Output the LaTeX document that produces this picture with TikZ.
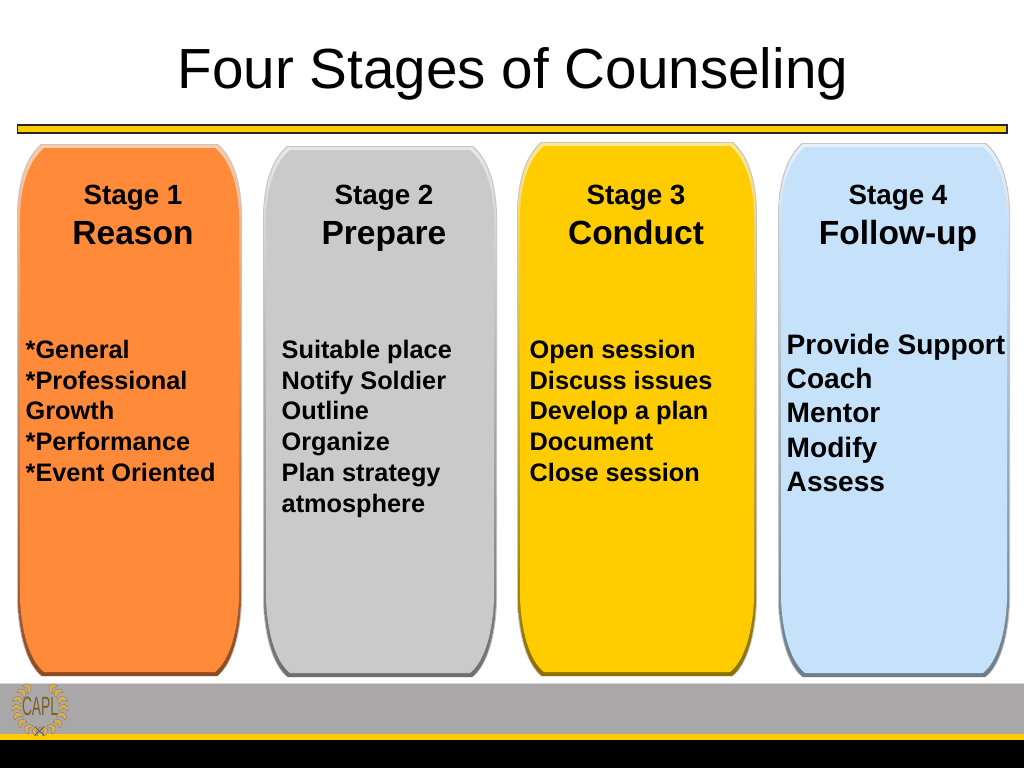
\documentclass[tikz,border=0pt]{standalone}
\usepackage{fontspec}
\setmainfont{Liberation Sans}
\usetikzlibrary{positioning}
\definecolor{capgold}{HTML}{FFCC00}
\definecolor{caporange}{HTML}{FF8A3A}
\definecolor{capgray}{HTML}{CACACA}
\definecolor{capblue}{HTML}{C6E2FA}
\definecolor{capband}{HTML}{A9A7A7}
\definecolor{capleaf}{HTML}{E0AE4A}
% outline of one stage panel: left, top, right, bottom
\newcommand{\panelpath}[4]{(#1,#2+68) .. controls (#1+1,#2+36) and (#1+9,#2+13) .. (#1+24,#2)
  -- (#3-24,#2) .. controls (#3-9,#2+13) and (#3-1,#2+36) .. (#3,#2+68)
  -- (#3,#4-75) .. controls (#3-1,#4-42) and (#3-9,#4-12) .. (#3-24,#4)
  -- (#1+24,#4) .. controls (#1+9,#4-12) and (#1+1,#4-42) .. (#1,#4-75) -- cycle}
\newcommand{\stagepanel}[5]{%
  \fill[panelrim] \panelpath{#1}{#2}{#3}{#4};
  \shade[top color=#5!45!white, middle color=#5!92!black, bottom color=#5!55!black]
    \panelpath{#1+1}{#2+1}{#3-1}{#4};
  \fill[#5] \panelpath{#1+3}{#2+4}{#3-3}{#4-4};
}
\begin{document}
\begin{tikzpicture}[
    x=1pt, y=-1pt,
    panelrim/.style={fill=black!22},
    heading/.style={font=\fontsize{56.6}{62}\selectfont},
    stagenum/.style={font=\fontsize{27.8}{32}\selectfont\bfseries, inner sep=0pt, anchor=base},
    stagename/.style={font=\fontsize{33.5}{38}\selectfont\bfseries, inner sep=0pt, anchor=base},
    points/.style={font=\fontsize{25.3}{30.7}\selectfont\bfseries, align=left,
                   anchor=north west, inner sep=0pt},
    bigpoints/.style={font=\fontsize{28.1}{34.2}\selectfont\bfseries, align=left,
                   anchor=north west, inner sep=0pt},
    leaf/.style={fill=capleaf, draw=black!55, line width=0.3pt},
  ]
  \useasboundingbox (0,0) rectangle (1024,768);

  % Title and rule
  \node[heading] (title) at (513,74) {Four Stages of Counseling};
  \fill[capgold, draw=black!85, line width=1.2pt] (17.5,125) rectangle (1007,133);

  % Stage panels
  \stagepanel{17}{144}{242}{676}{caporange}
  \stagepanel{263}{146}{497}{677}{capgray}
  \stagepanel{517}{142}{757}{676}{capgold}
  \stagepanel{778}{143}{1010}{677}{capblue}

  % Stage 1
  \node[stagenum] (num1) at (133,204) {Stage 1};
  \node[stagename] (name1) at (133,244) {Reason};
  \node[points] (body1) at (25.5,340) {*General\\*Professional\\Growth\\*Performance\\*Event Oriented};

  % Stage 2
  \node[stagenum] (num2) at (384,204) {Stage 2};
  \node[stagename] (name2) at (384,244) {Prepare};
  \node[points] (body2) at (281.5,340) {Suitable place\\Notify Soldier\\Outline\\Organize\\Plan strategy\\atmosphere};

  % Stage 3
  \node[stagenum] (num3) at (636,204) {Stage 3};
  \node[stagename] (name3) at (636,244) {Conduct};
  \node[points] (body3) at (529.5,340) {Open session\\Discuss issues\\Develop a plan\\Document\\Close session};

  % Stage 4
  \node[stagenum] (num4) at (898,204) {Stage 4};
  \node[stagename] (name4) at (898,244) {Follow-up};
  \node[bigpoints] (body4) at (786.5,334) {Provide Support\\Coach\\Mentor\\Modify\\Assess};

  % Footer bands
  \fill[black!15] (0,683) rectangle (1024,684);
  \fill[capband] (0,684) rectangle (1024,734);
  \fill[capgold] (0,734) rectangle (1024,740);
  \fill[black] (0,740) rectangle (1024,768);

  % Laurel badge
  \foreach \ang in {-80,-60,-40,-20,0,20,40,58} {
    \filldraw[leaf, shift={({40+23.5*cos(\ang)},{708-23.5*sin(\ang)})}, rotate={\ang+90}]
      (-3,-4.5) -- (1,-4.5) -- (4,0) -- (1,4.5) -- (-3,4.5) -- (0,0) -- cycle;
    \filldraw[leaf, shift={({40-23.5*cos(\ang)},{708-23.5*sin(\ang)})}, rotate={90-\ang}]
      (-3,-4.5) -- (1,-4.5) -- (4,0) -- (1,4.5) -- (-3,4.5) -- (0,0) -- cycle;
  }
  \draw[black!65, line width=0.8pt] (35,735) -- (44,727) (35,727) -- (44,735);
  \node[font=\fontsize{26.5}{26.5}\selectfont, text=capleaf!55!black, xscale=0.52, inner sep=0pt] (badge) at (40,706) {CAPL};
\end{tikzpicture}
\end{document}
